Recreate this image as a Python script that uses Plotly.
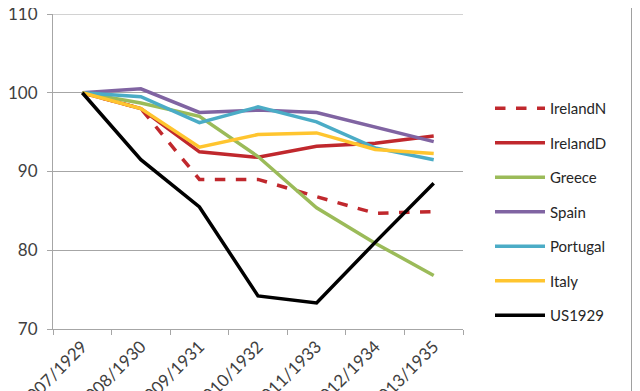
import plotly.graph_objects as go

categories = ["2007/1929", "2008/1930", "2009/1931", "2010/1932", "2011/1933", "2012/1934", "2013/1935"]
ireland_n = [100, 98.0, 89.0, 89.0, 86.8, 84.7, 84.9]
ireland_d = [100, 98.0, 92.5, 91.8, 93.2, 93.6, 94.5]
greece = [100, 98.7, 97.0, 91.9, 85.4, 80.9, 76.8]
spain = [100, 100.5, 97.5, 97.8, 97.5, 95.7, 93.8]
portugal = [100, 99.5, 96.2, 98.2, 96.3, 93.0, 91.5]
italy = [100, 98.0, 93.1, 94.7, 94.9, 92.8, 92.3]
us1929 = [100, 91.5, 85.5, 74.2, 73.3, 81.0, 88.5]

series = [
    ("IrelandN", ireland_n, "#C0282D", "dash", 3.5),
    ("IrelandD", ireland_d, "#C0282D", "solid", 3.5),
    ("Greece", greece, "#9BBB59", "solid", 3.5),
    ("Spain", spain, "#8064A2", "solid", 3.5),
    ("Portugal", portugal, "#4BACC6", "solid", 3.5),
    ("Italy", italy, "#FFC52F", "solid", 3.5),
    ("US1929", us1929, "#000000", "solid", 3.5),
]

fig = go.Figure()
for name, vals, color, dash, w in series:
    fig.add_trace(go.Scatter(
        x=categories, y=vals, name=name, mode="lines",
        line=dict(color=color, width=w, dash=dash),
        legendgroup=name,
    ))

W, H = 632, 383
grid = "#A6A6A6"
fig.update_layout(
    width=W, height=H,
    margin=dict(l=45, r=177, t=6, b=62, autoexpand=False),
    paper_bgcolor="white", plot_bgcolor="white",
    font=dict(family="Lato, Open Sans, sans-serif", color="#404040"),
    showlegend=True,
    legend=dict(
        xref="container", yref="container",
        x=482 / W, y=1 - 84 / H, xanchor="left", yanchor="top",
        font=dict(size=15, color="#262626"),
        itemwidth=50, tracegroupgap=12, maxheight=1,
        bgcolor="rgba(0,0,0,0)",
    ),
    xaxis=dict(
        type="category", showgrid=False, showline=True, linecolor=grid, linewidth=1,
        ticks="outside", tickson="boundaries", ticklen=5, tickcolor=grid,
        tickangle=-45, tickfont=dict(size=17, color="#404040"),
        range=[-0.5, 6.5], automargin=False, ticklabeloverflow="allow",
    ),
    yaxis=dict(
        range=[70, 110], dtick=10, showgrid=True, gridcolor=grid, gridwidth=1,
        showline=True, linecolor=grid, linewidth=1, ticks="outside", ticklen=5,
        tickcolor=grid, tickfont=dict(size=17, color="#404040"), zeroline=False,
        automargin=False, ticklabeloverflow="allow", ticklabelstandoff=6,
    ),
    shapes=[dict(type="line", xref="paper", yref="paper", x0=(624 - 45) / 410, x1=(624 - 45) / 410,
                 y0=-0.3, y1=1.1, line=dict(color="#A0A0A0", width=2), layer="above"),
            dict(type="line", xref="paper", yref="y", x0=0, x1=1, y0=110, y1=110,
                 line=dict(color=grid, width=1), layer="below")],
)

fig.write_html("out.html")
